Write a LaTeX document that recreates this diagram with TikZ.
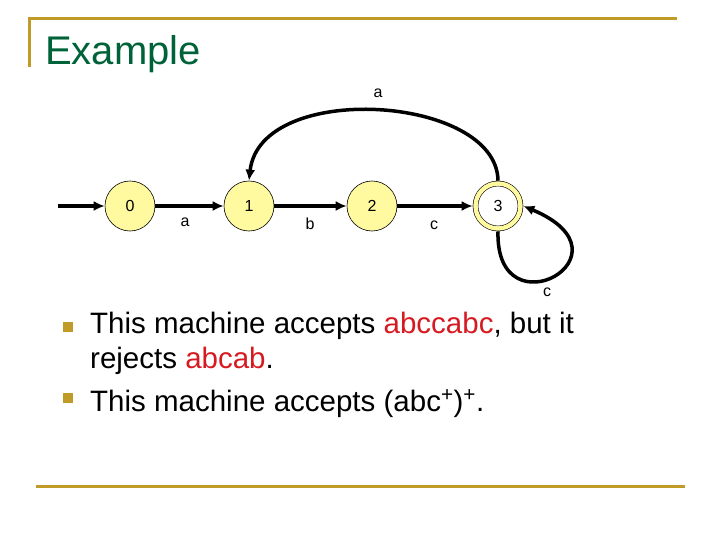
\documentclass[tikz,border=0pt]{standalone}
\usepackage{fontspec}
\setmainfont{Liberation Sans}
\usetikzlibrary{arrows.meta}
\definecolor{rulegold}{RGB}{192,155,40}
\definecolor{titlegreen}{RGB}{0,98,56}
\definecolor{stateyellow}{RGB}{255,250,160}
\definecolor{wordred}{RGB}{214,26,33}

\begin{document}
\begin{tikzpicture}[x=1pt,y=-1pt,
  state/.style={circle,draw=black,line width=0.6pt,fill=stateyellow,minimum size=50pt,inner sep=0pt,
    font=\fontsize{16}{19}\selectfont},
  accept/.style={circle,draw=black,line width=0.6pt,double=stateyellow,double distance=4.4pt,
    minimum size=45pt,inner sep=0pt,outer sep=2.8pt,font=\fontsize{16}{19}\selectfont},
  edge/.style={line width=3.5pt,-{Latex[length=11pt,width=10pt]}},
  lbl/.style={inner sep=0pt,font=\fontsize{16}{19}\selectfont},
  rule/.style={rulegold,line width=3pt},
  bulletsq/.style={fill=rulegold,minimum size=10pt,inner sep=0pt},
  body/.style={anchor=base west,inner sep=0pt,font=\fontsize{29.5}{35}\selectfont}]
\useasboundingbox (0,0) rectangle (720,540);

% slide frame
\draw[rule] (28,18.5) -- (677,18.5);
\draw[rule] (29.5,17) -- (29.5,67);
\draw[rule] (36,486) -- (685,486);
\node[anchor=base west,inner sep=0pt,titlegreen,font=\fontsize{40}{48}\selectfont] (title) at (45,65) {Example};

% automaton
\coordinate (start) at (58,206);
\node[state] (s0) at (130,206) {0};
\node[state] (s1) at (249,206) {1};
\node[state] (s2) at (372,206) {2};
\node[accept] (s3) at (498,206) {3};

\draw[edge] (start) -- (s0);
\draw[edge] (s0) -- (s1);
\draw[edge] (s1) -- (s2);
\draw[edge] (s2) -- (s3);
\draw[edge] (s3.north) .. controls (497,95) and (260,80) .. (s1.north);
\draw[edge] (s3.south) .. controls (495,335) and (640,255) .. (s3.east);

\node[lbl] (l01) at (185,222) {a};
\node[lbl] (l12) at (310,224) {b};
\node[lbl] (l23) at (434,225) {c};
\node[lbl] (l31) at (378,93) {a};
\node[lbl] (l33) at (547,292) {c};

% text
\node[bulletsq] (b1) at (68,327) {};
\node[body] (t1) at (90,333) {This machine accepts \textcolor{wordred}{abccabc}, but it};
\node[body] (t2) at (90,368) {rejects \textcolor{wordred}{abcab}.};
\node[bulletsq] (b2) at (68,398) {};
\node[body] (t3) at (90,411) {This machine accepts (abc\textsuperscript{+})\textsuperscript{+}.};
\end{tikzpicture}
\end{document}
